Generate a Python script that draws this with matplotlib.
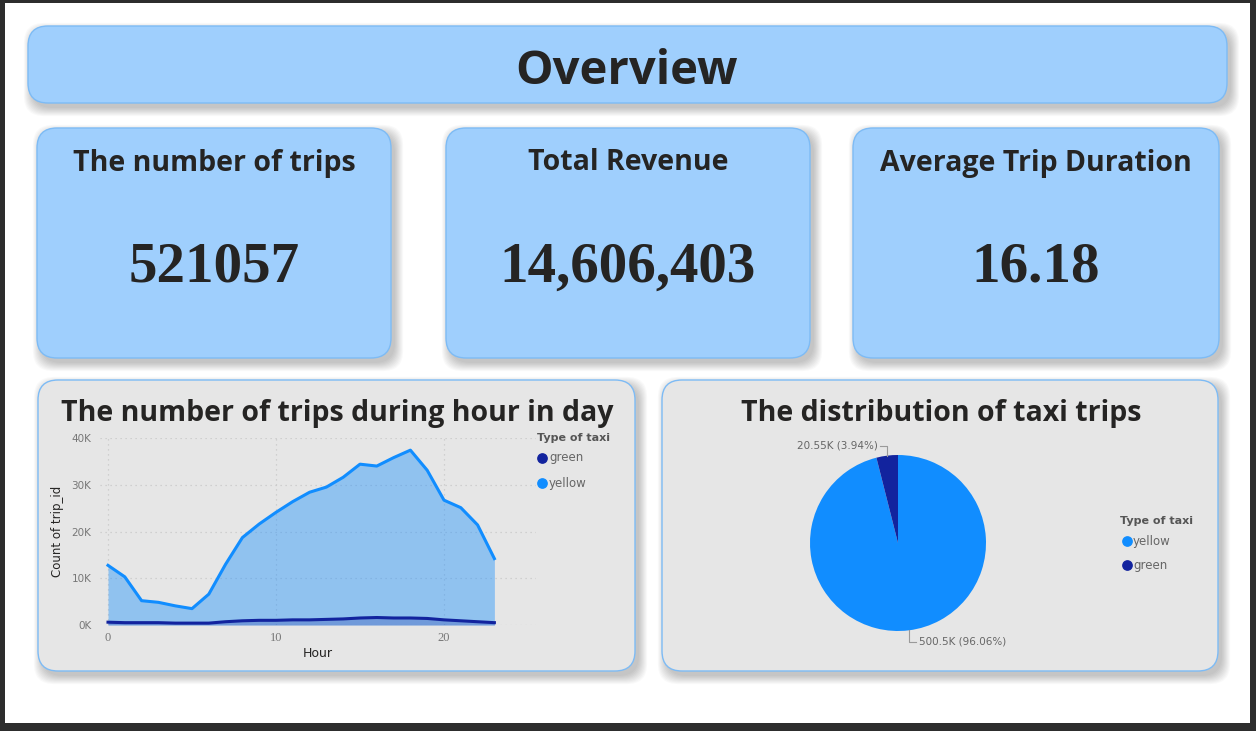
import numpy as np
import matplotlib
matplotlib.use("Agg")
from matplotlib import pyplot as plt
from matplotlib.patches import FancyBboxPatch, Rectangle

# ---- data ----
hours = list(range(24))
yellow_trips = [12760, 10300, 5200, 4850, 4100, 3500, 6600, 13000, 18700, 21600,
                24100, 26400, 28400, 29500, 31600, 34400, 34000, 35800, 37400, 33100,
                26700, 25100, 21400, 14200]
green_trips = [600, 500, 500, 500, 400, 400, 400, 700, 900, 1000,
               1000, 1100, 1100, 1200, 1300, 1500, 1600, 1500, 1500, 1400,
               1100, 900, 700, 500]
taxi_types = ["yellow", "green"]
taxi_counts = [500500, 20550]
kpi_titles = ["The number of trips", "Total Revenue", "Average Trip Duration"]
kpi_values = ["521057", "14,606,403", "16.18"]
y_ticks = [0, 10000, 20000, 30000, 40000]
y_tick_labels = ["0K", "10K", "20K", "30K", "40K"]
x_ticks = [0, 10, 20]

YELLOW = "#118DFF"
GREEN = "#12239E"
BOX_BLUE = "#9fcffd"
EDGE_BLUE = "#7dbbf5"
PANEL = "#e6e6e6"
TXT = "#252423"

W, H = 1256, 731
fig = plt.figure(figsize=(W / 100, H / 100), dpi=100, facecolor="#2d2d2d")

bg = fig.add_axes([0, 0, 1, 1])
bg.set_xlim(0, W)
bg.set_ylim(H, 0)
bg.axis("off")
bg.add_patch(Rectangle((5, 3), 1245, 720, facecolor="white", edgecolor="none"))


def card(x0, y0, x1, y1, fill, r=20):
    # soft shadow
    for i in range(10):
        bg.add_patch(FancyBboxPatch((x0 + 4, y0 + 5), x1 - x0, y1 - y0,
                                    boxstyle=f"round,pad={i * 0.9},rounding_size={r}",
                                    facecolor="black", edgecolor="none", alpha=0.022))
    bg.add_patch(FancyBboxPatch((x0, y0), x1 - x0, y1 - y0,
                                boxstyle=f"round,pad=0,rounding_size={r}",
                                facecolor=fill, edgecolor=EDGE_BLUE, lw=1))


def to_fig(x0, y0, x1, y1):
    return [x0 / W, (H - y1) / H, (x1 - x0) / W, (y1 - y0) / H]


# header
card(28, 26, 1227, 103, BOX_BLUE)
bg.text(627, 71, "Overview", ha="center", va="center", fontsize=34,
        fontweight="bold", family="Open Sans", color=TXT)

# kpi cards
kpi_boxes = [(37, 128, 391, 358), (446, 128, 810, 358), (853, 128, 1219, 358)]
for (x0, y0, x1, y1), t, v in zip(kpi_boxes, kpi_titles, kpi_values):
    card(x0, y0, x1, y1, BOX_BLUE)
    cx = (x0 + x1) / 2
    bg.text(cx, 163, t, ha="center", va="center", fontsize=20.5,
            fontweight="bold", family="Open Sans", color=TXT)
    bg.text(cx, 268, v, ha="center", va="center", fontsize=41,
            fontweight="bold", family="Liberation Serif", color=TXT)

# bottom panels
card(38, 380, 635, 671, PANEL)
card(662, 380, 1218, 671, PANEL)
bg.text(337, 414, "The number of trips during hour in day", ha="center", va="center",
        fontsize=20.5, fontweight="bold", family="Open Sans", color=TXT)
bg.text(941, 414, "The distribution of taxi trips", ha="center", va="center",
        fontsize=20.5, fontweight="bold", family="Open Sans", color=TXT)

# ---- line / area chart ----
ax = fig.add_axes(to_fig(99.6, 438, 536.4, 625))
ax.set_facecolor("none")
ax.fill_between(hours, yellow_trips, color=YELLOW, alpha=0.4, lw=0)
ax.fill_between(hours, green_trips, color=GREEN, alpha=0.25, lw=0)
ax.plot(hours, yellow_trips, color=YELLOW, lw=2.2, clip_on=False)
ax.plot(hours, green_trips, color=GREEN, lw=2.2, clip_on=False)
ax.set_xlim(-0.5, 25.5)
ax.set_ylim(0, 40000)
ax.set_yticks(y_ticks)
ax.set_yticklabels(y_tick_labels)
ax.set_xticks(x_ticks)
ax.tick_params(axis="y", length=0, pad=6, labelsize=7.5, labelcolor="#777777")
ax.tick_params(axis="x", length=0, pad=5, labelsize=9, labelcolor="#777777")
for lab in ax.get_xticklabels():
    lab.set_family("Liberation Serif")
ax.grid(True, color="#c8c8c8", ls=(0, (1, 3)), lw=0.9)
ax.set_axisbelow(True)
for s in ax.spines.values():
    s.set_visible(False)
ax.set_ylabel("Count of trip_id", fontsize=8.5, color=TXT, labelpad=5)
ax.set_xlabel("Hour", fontsize=9, color=TXT, labelpad=2)

# legend for line chart
bg.text(537, 438, "Type of taxi", ha="left", va="center", fontsize=8,
        fontweight="bold", color="#555555")
for i, (name, col) in enumerate([("green", GREEN), ("yellow", YELLOW)]):
    yy = 458 + i * 25
    bg.scatter([542], [yy], s=45, color=col, zorder=5)
    bg.text(549, yy, name, ha="left", va="center", fontsize=8.5, color="#666666")

# ---- pie chart ----
R = 88
pax = fig.add_axes(to_fig(898 - 150, 543 - 150, 898 + 150, 543 + 150))
pax.set_facecolor("none")
pax.pie(taxi_counts, colors=[YELLOW, GREEN], startangle=90, counterclock=False,
        radius=1, wedgeprops=dict(lw=0))
lim = 150 / R
pax.set_xlim(-lim, lim)
pax.set_ylim(-lim, lim)
pax.set_aspect("equal")
pax.axis("off")

total = sum(taxi_counts)
def fmt_k(v):
    k = v / 1000
    return f"{k:.4g}K"

# yellow label below, green label above-left
start = 90
for name, cnt in zip(taxi_types, taxi_counts):
    frac = cnt / total
    mid = np.deg2rad(start - frac * 360 / 2)
    start -= frac * 360
    px, py = np.cos(mid), np.sin(mid)
    lab = f"{fmt_k(cnt)} ({frac * 100:.2f}%)"
    if py < 0:
        ey = py - 0.13
        pax.plot([px, px, px + 0.08], [py, ey, ey], color="#9a9a9a", lw=0.8, clip_on=False)
        pax.text(px + 0.11, ey, lab, ha="left", va="center", fontsize=7.5, color="#666666")
    else:
        ey = py + 0.11
        pax.plot([px, px, px - 0.08], [py, ey, ey], color="#9a9a9a", lw=0.8, clip_on=False)
        pax.text(px - 0.11, ey, lab, ha="right", va="center", fontsize=7.5, color="#666666")

bg.text(1120, 521, "Type of taxi", ha="left", va="center", fontsize=8,
        fontweight="bold", color="#555555")
for i, (name, col) in enumerate(zip(taxi_types, [YELLOW, GREEN])):
    yy = 541 + i * 24
    bg.scatter([1127], [yy], s=45, color=col, zorder=5)
    bg.text(1133, yy, name, ha="left", va="center", fontsize=8.5, color="#666666")

fig.savefig("out.png", dpi=100, facecolor=fig.get_facecolor())
